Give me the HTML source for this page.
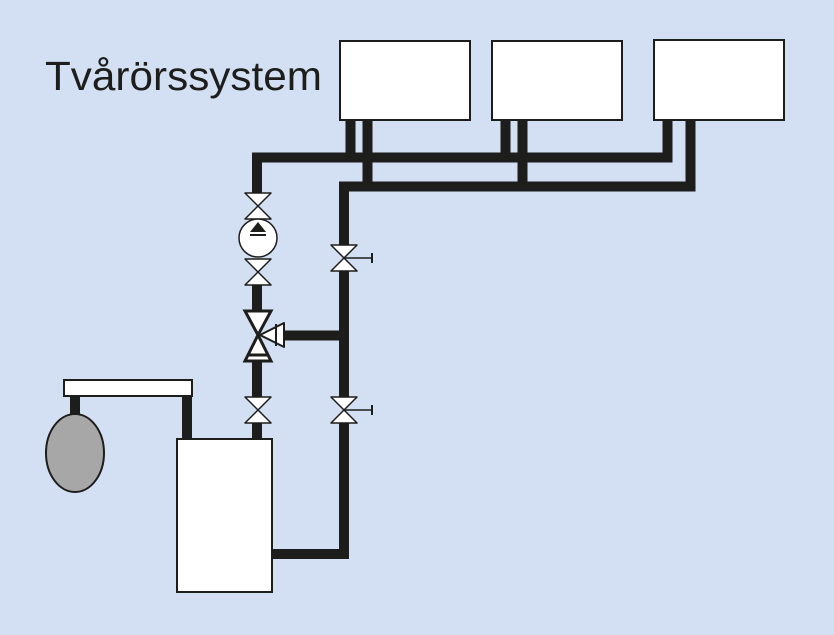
<!DOCTYPE html>
<html><head><style>html,body{margin:0;padding:0;background:#d3e0f3}</style></head>
<body>
<svg width="834" height="630" viewBox="0 0 834 630" xmlns="http://www.w3.org/2000/svg">
<rect width="834" height="630" fill="#d3e0f3"/>
<text x="45" y="90" font-family="Liberation Sans, sans-serif" font-size="41" fill="#1d1d1b" textLength="277" lengthAdjust="spacingAndGlyphs">Tvårörssystem</text>
<g fill="none" stroke="#1d1d1b" stroke-width="10" stroke-linejoin="miter">
<polyline points="257,440 257,157.5 667.5,157.5 667.5,118"/>
<line x1="350.5" y1="118" x2="350.5" y2="158"/>
<line x1="505.5" y1="118" x2="505.5" y2="158"/>
<polyline points="272,554 344,554 344,186.5 690.5,186.5 690.5,118"/>
<line x1="367.5" y1="118" x2="367.5" y2="187"/>
<line x1="522.5" y1="118" x2="522.5" y2="187"/>
<line x1="284" y1="335.5" x2="345" y2="335.5"/>
<line x1="187" y1="394" x2="187" y2="440"/>
<line x1="75" y1="394" x2="75" y2="416"/>
</g>
<g fill="#d3e0f3">
<rect x="244" y="193" width="28" height="92"/>
<rect x="244" y="311" width="28" height="50"/>
<rect x="244" y="397" width="28" height="26"/>
<rect x="330" y="245" width="28" height="26"/>
<rect x="330" y="397" width="28" height="26"/>
</g>
<g fill="#fff" stroke="#1d1d1b" stroke-width="2">
<rect x="340" y="41" width="130" height="79"/>
<rect x="492" y="41" width="130" height="79"/>
<rect x="654" y="40" width="130" height="80"/>
<rect x="177" y="439" width="95" height="153"/>
<rect x="64" y="380" width="128" height="16"/>
<ellipse cx="75" cy="453" rx="29" ry="39" fill="#a8a7a7"/>
</g>
<g fill="#fff" stroke="#1d1d1b" stroke-width="1.5" stroke-linejoin="round">
<polygon points="245,193 271,193 258,206"/><polygon points="245,219 271,219 258,206"/>
<polygon points="245,259 271,259 258,272"/><polygon points="245,285 271,285 258,272"/>
<polygon points="245,397 271,397 258,410"/><polygon points="245,423 271,423 258,410"/>
<circle cx="258" cy="238" r="19"/>
<polygon points="331,245 357,245 344,258"/><polygon points="331,271 357,271 344,258"/>
<polygon points="331,397 357,397 344,410"/><polygon points="331,423 357,423 344,410"/>
<polygon points="245,311 271,311 258,335" stroke-width="3" stroke-linejoin="miter"/>
<polygon points="245,361 271,361 258,335" stroke-width="3" stroke-linejoin="miter"/>
<polygon points="260,335 284,323 284,347" stroke-width="2"/>
</g>
<g stroke="#1d1d1b" stroke-width="1.5">
<line x1="344" y1="258" x2="371" y2="258"/><line x1="372" y1="253" x2="372" y2="263" stroke-width="2"/>
<line x1="344" y1="410" x2="371" y2="410"/><line x1="372" y1="405" x2="372" y2="415" stroke-width="2"/>
<line x1="248" y1="355" x2="268" y2="355" stroke-width="3"/>
<line x1="250" y1="235" x2="266" y2="235" stroke-width="2"/>
<line x1="276" y1="324" x2="276" y2="346" stroke-width="2"/>
</g>
<polygon points="258,222 266,232 250,232" fill="#1d1d1b"/>
</svg>
</body></html>
